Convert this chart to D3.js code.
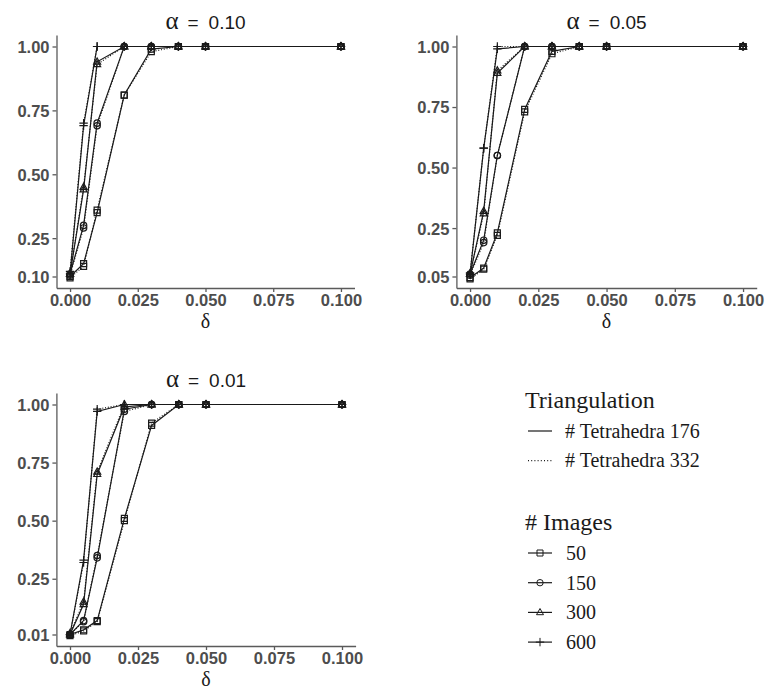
<!DOCTYPE html>
<html>
<head>
<meta charset="utf-8">
<script src="https://cdn.jsdelivr.net/npm/d3@7"></script>
<style>
  body { margin: 0; background: #fff; }
  svg { display: block; }
  .tick text { font-family: "Liberation Sans", Arial, sans-serif; font-weight: bold; font-size: 16.5px; fill: #4d4d4d; }
  .tick line, .domain { stroke: #5a5a5a; stroke-width: 1.3px; }
  .legend text { font-family: "Liberation Serif", "Times New Roman", serif; fill: #1a1a1a; }
</style>
</head>
<body>
<svg id="chart" width="769" height="690"></svg>
<script>
// delta values on the x axis
const deltas = [0, 0.005, 0.01, 0.02, 0.03, 0.04, 0.05, 0.1];
const imageSizes = [50, 150, 300, 600];
const tetraLabels = ['# Tetrahedra 176', '# Tetrahedra 332'];
const alphaLabels = ['0.10', '0.05', '0.01'];

const xTicks = [0, 0.025, 0.05, 0.075, 0.1];
const yTicks10 = [0.10, 0.25, 0.50, 0.75, 1.00];
const yTicks05 = [0.05, 0.25, 0.50, 0.75, 1.00];
const yTicks01 = [0.01, 0.25, 0.50, 0.75, 1.00];

// power, one row per number of images (50, 150, 300, 600)
const power10_t176 = [
    [0.10, 0.15, 0.35, 0.81, 0.99, 1, 1, 1],
    [0.11, 0.30, 0.70, 1, 1, 1, 1, 1],
    [0.11, 0.44, 0.94, 1, 1, 1, 1, 1],
    [0.11, 0.69, 1, 1, 1, 1, 1, 1]
];
const power10_t332 = [
    [0.095, 0.14, 0.36, 0.81, 0.98, 1, 1, 1],
    [0.105, 0.29, 0.69, 1, 1, 1, 1, 1],
    [0.11, 0.45, 0.93, 1, 1, 1, 1, 1],
    [0.12, 0.70, 1, 1, 1, 1, 1, 1]
];
const power05_t176 = [
    [0.045, 0.085, 0.23, 0.74, 0.98, 1, 1, 1],
    [0.06, 0.20, 0.55, 1, 1, 1, 1, 1],
    [0.06, 0.32, 0.89, 1, 1, 1, 1, 1],
    [0.06, 0.58, 0.99, 1, 1, 1, 1, 1]
];
const power05_t332 = [
    [0.04, 0.08, 0.22, 0.73, 0.97, 1, 1, 1],
    [0.055, 0.19, 0.55, 1, 1, 1, 1, 1],
    [0.06, 0.31, 0.90, 1, 1, 1, 1, 1],
    [0.065, 0.58, 1, 1, 1, 1, 1, 1]
];
const power01_t176 = [
    [0.01, 0.03, 0.07, 0.51, 0.91, 1, 1, 1],
    [0.01, 0.07, 0.34, 0.98, 1, 1, 1, 1],
    [0.01, 0.14, 0.70, 0.99, 1, 1, 1, 1],
    [0.01, 0.33, 0.97, 1, 1, 1, 1, 1]
];
const power01_t332 = [
    [0.005, 0.025, 0.065, 0.50, 0.92, 1, 1, 1],
    [0.01, 0.065, 0.35, 0.97, 1, 1, 1, 1],
    [0.015, 0.15, 0.71, 1, 1, 1, 1, 1],
    [0.01, 0.32, 0.98, 1, 1, 1, 1, 1]
];

const shapes = ['square', 'circle', 'triangle', 'plus'];

const svg = d3.select('#chart');

function markerPath(shape) {
    if (shape === 'square') return 'M-3,-3H3V3H-3Z';
    if (shape === 'circle') return 'M3.2,0A3.2,3.2 0 1,1 -3.2,0A3.2,3.2 0 1,1 3.2,0Z';
    if (shape === 'triangle') return 'M0,-3.9L3.5,2.3H-3.5Z';
    return 'M-4.2,0H4.2M0,-4.2V4.2';
}

const panels = [
    { alpha: alphaLabels[0], left: 56.5, top: 35, w: 298, h: 253, yMin: 0.10, yTicks: yTicks10, series: [power10_t176, power10_t332] },
    { alpha: alphaLabels[1], left: 456.4, top: 35, w: 300.3, h: 253, yMin: 0.05, yTicks: yTicks05, series: [power05_t176, power05_t332] },
    { alpha: alphaLabels[2], left: 56.4, top: 393, w: 299.2, h: 253, yMin: 0.01, yTicks: yTicks01, series: [power01_t176, power01_t332] }
];

panels.forEach(p => {
    const g = svg.append('g');

    // ggplot style 5% expansion on both axes
    const x = d3.scaleLinear().domain([-0.005, 0.105]).range([p.left, p.left + p.w]);
    const ey = 0.05 * (1 - p.yMin);
    const y = d3.scaleLinear().domain([p.yMin - ey, 1 + ey]).range([p.top + p.h, p.top]);

    g.append('g')
        .attr('transform', `translate(0,${p.top + p.h})`)
        .call(d3.axisBottom(x).tickValues(xTicks).tickFormat(d3.format('.3f')).tickSize(4).tickSizeOuter(0).tickPadding(2));
    g.append('g')
        .attr('transform', `translate(${p.left},0)`)
        .call(d3.axisLeft(y).tickValues(p.yTicks).tickFormat(d3.format('.2f')).tickSize(4).tickSizeOuter(0).tickPadding(3))
        .selectAll('.tick text').attr('dy', '0.36em');

    // title, plotmath-like spacing around "="
    const title = g.append('text')
        .attr('x', p.left + p.w / 2)
        .attr('y', p.top - 6)
        .attr('text-anchor', 'middle')
        .style('font-family', '"Liberation Sans", Arial, sans-serif')
        .style('font-size', '19px')
        .style('fill', '#1a1a1a');
    title.append('tspan').style('font-family', '"Liberation Serif", serif').style('font-size', '25px').text('α');
    title.append('tspan').attr('dx', 9).text('=');
    title.append('tspan').attr('dx', 10).text(p.alpha);

    // x axis label
    g.append('text')
        .attr('x', p.left + p.w / 2)
        .attr('y', p.top + p.h + 40)
        .attr('text-anchor', 'middle')
        .style('font-family', '"Liberation Serif", serif')
        .style('font-size', '20px')
        .style('fill', '#1a1a1a')
        .text('δ');

    const line = d3.line()
        .x(d => x(d[0]))
        .y(d => y(d[1]));

    p.series.forEach((rows, ti) => {
        rows.forEach((vals, k) => {
            const pts = deltas.map((d, i) => [d, vals[i]]);
            g.append('path')
                .datum(pts)
                .attr('d', line)
                .attr('fill', 'none')
                .attr('stroke', '#1a1a1a')
                .attr('stroke-width', 1.2)
                .attr('stroke-dasharray', ti === 1 ? '1,1.8' : null);
            g.selectAll(null).data(pts).enter().append('path')
                .attr('transform', d => `translate(${x(d[0])},${y(d[1])})`)
                .attr('d', markerPath(shapes[k]))
                .attr('fill', 'none')
                .attr('stroke', '#1a1a1a')
                .attr('stroke-width', 1.2);
        });
    });
});

// legends, both left aligned at the same key column
const leg = svg.append('g').attr('class', 'legend');

leg.append('text').attr('x', 525).attr('y', 408).style('font-size', '24px').text('Triangulation');
tetraLabels.forEach((lab, i) => {
    const cy = 431 + i * 29.7;
    leg.append('line')
        .attr('x1', 528).attr('x2', 552).attr('y1', cy).attr('y2', cy)
        .attr('stroke', '#1a1a1a').attr('stroke-width', 1.2)
        .attr('stroke-dasharray', i === 1 ? '1,2.2' : null);
    leg.append('text').attr('x', 565).attr('y', cy + 6.5).style('font-size', '20px').text(lab);
});

leg.append('text').attr('x', 525).attr('y', 530).style('font-size', '24px').text('# Images');
imageSizes.forEach((n, k) => {
    const cy = 553 + k * 29.7;
    leg.append('line')
        .attr('x1', 528).attr('x2', 552).attr('y1', cy).attr('y2', cy)
        .attr('stroke', '#1a1a1a').attr('stroke-width', 1.2);
    leg.append('path')
        .attr('transform', `translate(540,${cy})`)
        .attr('d', markerPath(shapes[k]))
        .attr('fill', 'none').attr('stroke', '#1a1a1a').attr('stroke-width', 1);
    leg.append('text').attr('x', 566).attr('y', cy + 7).style('font-size', '20px').text(n);
});
</script>
</body>
</html>
